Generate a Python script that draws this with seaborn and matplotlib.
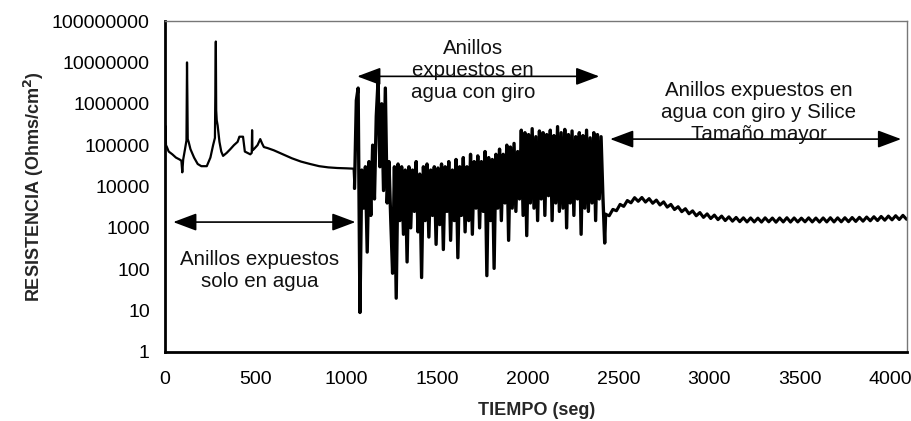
import numpy as np
import pandas as pd
import matplotlib
matplotlib.use("Agg")
import matplotlib.pyplot as plt
import seaborn as sns
from matplotlib.ticker import FixedLocator, FuncFormatter

# ---- data ----
# Segment 1: rings exposed only to water
t_agua = [0, 3, 5, 10, 20, 40, 60, 80, 90, 95, 100, 110, 118, 120, 121, 123, 125, 130,
          140, 160, 180, 200, 230, 250, 265, 275, 280, 282, 285, 290, 300, 310, 320,
          340, 360, 380, 400, 410, 430, 440, 470, 478, 480, 482, 490, 510, 525, 535,
          545, 565, 600, 650, 700, 750, 800, 850, 900, 950, 1000, 1040]
r_agua = [100000, 290000, 100000, 90000, 70000, 60000, 50000, 45000, 42000, 22000,
          45000, 80000, 130000, 2300000, 10000000, 1500000, 140000, 120000,
          80000, 50000, 35000, 31000, 31000, 50000, 100000, 150000, 32000000, 700000,
          400000, 300000, 120000, 70000, 55000,
          65000, 80000, 100000, 120000, 160000, 160000, 70000, 60000, 65000, 230000,
          75000, 80000, 100000, 140000, 110000,
          90000, 85000, 75000, 60000, 48000, 40000, 35000, 31000, 29000, 28000, 27500, 27000]

# Segment 2: rings in water with rotation (sampled every 10 s from 1045 s)
t_giro_inicio, t_giro_paso = 1045, 10
r_giro = [9000, 1200000, 2400000, 9, 25000, 3000, 30000, 260, 40000, 2000,
          100000, 5000, 500000, 3700000, 30000, 1000000, 8000, 2400000, 4000, 40000,
          1500, 80, 30000, 20, 35000, 1500, 30000, 700, 25000, 150,
          30000, 1000, 25000, 2500, 40000, 800, 20000, 63, 30000, 1500,
          35000, 600, 25000, 2000, 30000, 400, 28000, 1200, 35000, 300,
          30000, 2500, 40000, 500, 25000, 1500, 45000, 190, 30000, 2000,
          50000, 800, 30000, 1500, 60000, 700, 40000, 3000, 55000, 1000,
          40000, 2500, 70000, 70, 50000, 1500, 45000, 105, 60000, 3000,
          80000, 1500, 60000, 4000, 100000, 500, 90000, 3000, 110000, 2500,
          70000, 5000, 230000, 2000, 200000, 650, 180000, 4000, 250000, 3000,
          160000, 1500, 220000, 5000, 200000, 2000, 180000, 6000, 230000, 1500,
          170000, 4000, 280000, 2500, 200000, 3000, 240000, 1000, 180000, 4000,
          220000, 2000, 160000, 5000, 200000, 700, 170000, 3000, 230000, 2500,
          150000, 4000, 200000, 1500, 180000, 5000, 160000, 6000, 430]

# Segment 3: rotation + larger silica (sampled every 20 s from 2430 s)
t_silice_inicio, t_silice_paso = 2430, 20
r_silice = [2130, 1960, 2800, 2590, 3700, 3300, 4590, 4020, 5380, 4380,
            5430, 4200, 5100, 3930, 4700, 3570, 4260, 3170, 3700, 2770,
            3250, 2460, 2910, 2190, 2580, 1960, 2350, 1790, 2180, 1680,
            2040, 1580, 1930, 1500, 1850, 1450, 1790, 1410, 1750, 1390,
            1740, 1390, 1720, 1380, 1750, 1400, 1730, 1370, 1740, 1390,
            1760, 1380, 1740, 1390, 1720, 1400, 1750, 1390, 1730, 1380,
            1740, 1390, 1760, 1390, 1750, 1400, 1760, 1410, 1780, 1430,
            1800, 1450, 1830, 1480, 1860, 1500, 1890, 1530, 1930, 1560,
            1970, 1590, 2010, 1610]

x_ticks = [0, 500, 1000, 1500, 2000, 2500, 3000, 3500, 4000]
y_ticks = [1, 10, 100, 1000, 10000, 100000, 1000000, 10000000, 100000000]

etiquetas = ["Anillos expuestos\nsolo en agua",
             "Anillos\nexpuestos en\nagua con giro",
             "Anillos expuestos en\nagua con giro y Silice\nTamaño mayor"]

# ---- build tables ----
t_giro = t_giro_inicio + t_giro_paso * np.arange(len(r_giro))
t_silice = t_silice_inicio + t_silice_paso * np.arange(len(r_silice))
df_agua = pd.DataFrame({"t": np.array(t_agua + [t_giro[0]], float),
                        "r": np.array(r_agua + [r_giro[0]], float)})
df_giro = pd.DataFrame({"t": np.append(t_giro, t_silice[0]).astype(float),
                        "r": np.append(np.array(r_giro, float), r_silice[0])})
df_silice = pd.DataFrame({"t": t_silice.astype(float), "r": np.array(r_silice, float)})

sns.set_style("white")
plt.rcParams["font.family"] = ["Liberation Sans", "DejaVu Sans"]

fig = plt.figure(figsize=(9.12, 4.21), dpi=100)
ax = fig.add_axes([0.181, 0.164, 0.814, 0.786])

sns.lineplot(data=df_agua, x="t", y="r", ax=ax, color="black", linewidth=1.6,
             estimator=None, sort=False)
sns.lineplot(data=df_giro, x="t", y="r", ax=ax, color="black", linewidth=2.4,
             estimator=None, sort=False)
sns.lineplot(data=df_silice, x="t", y="r", ax=ax, color="black", linewidth=2.2,
             estimator=None, sort=False)

ax.set_yscale("log")
ax.set_ylim(1, 1e8)
ax.set_xlim(0, 4095)
ax.yaxis.set_major_locator(FixedLocator(y_ticks))
ax.yaxis.set_minor_locator(FixedLocator([]))
ax.yaxis.set_major_formatter(FuncFormatter(lambda v, p: "%d" % round(v)))
ax.xaxis.set_major_locator(FixedLocator(x_ticks))
ax.tick_params(axis="both", which="major", direction="out", length=6, width=1.5,
               labelsize=14, colors="black")
ax.tick_params(axis="y", pad=5)
ax.tick_params(axis="x", pad=8)

for s in ["left", "bottom"]:
    ax.spines[s].set_color("black")
    ax.spines[s].set_linewidth(2.0)
for s in ["top", "right"]:
    ax.spines[s].set_color("#777777")
    ax.spines[s].set_linewidth(1.0)

ax.set_xlabel("TIEMPO (seg)", fontsize=13, fontweight="bold", labelpad=10)
ax.set_ylabel(r"RESISTENCIA (Ohms/cm$^\mathbf{2}$)", fontsize=13, fontweight="bold",
              labelpad=4)

arrow_kw = dict(arrowstyle="<|-|>,head_length=1.2,head_width=0.45", color="black",
                lw=1.2, shrinkA=0, shrinkB=0, mutation_scale=12)
ax.annotate("", xy=(45, 1380), xytext=(1050, 1380), arrowprops=arrow_kw)
ax.annotate("", xy=(1060, 4.6e6), xytext=(2395, 4.6e6), arrowprops=arrow_kw)
ax.annotate("", xy=(2455, 1.4e5), xytext=(4060, 1.4e5), arrowprops=arrow_kw)

txt_kw = dict(ha="center", va="center", fontsize=14.8, linespacing=1.2, color="#111111")
ax.text(520, 91, etiquetas[0], **txt_kw)
ax.text(1697, 6.5e6, etiquetas[1], **txt_kw)
ax.text(3275, 6.3e5, etiquetas[2], **txt_kw)

fig.savefig("out.png", dpi=100, facecolor="white")
